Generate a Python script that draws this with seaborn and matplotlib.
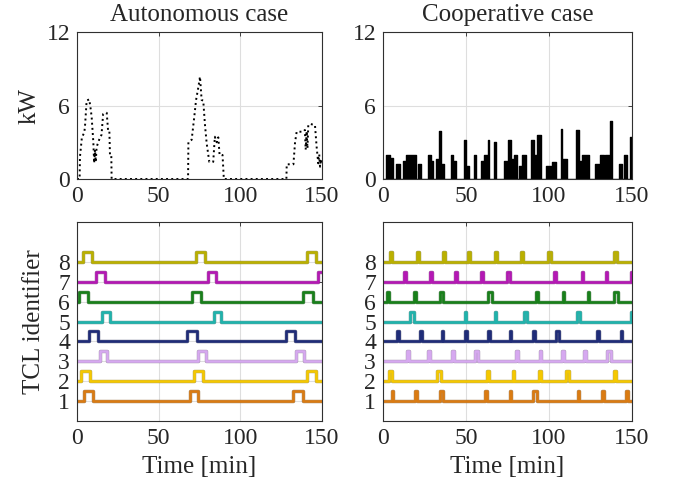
import os
import numpy as np
import pandas as pd
import matplotlib
matplotlib.use('Agg')
import matplotlib.pyplot as plt
import matplotlib.patheffects as pe
import seaborn as sns

os.environ['MPLCONFIGDIR'] = '/tmp'

# aggregate power of the autonomous case (dotted curve)
auto_t = [0, 1.6, 1.8, 3, 4.5, 5, 5.9, 7.5, 8.5, 9, 10, 10.5, 11, 11.5, 12, 13, 14.1,
          15, 16, 17.5, 18.2, 19, 19.8, 20.2, 21, 21.2,
          68, 68.2, 70.2, 71.7, 72.9, 74.3, 75.3, 76.3, 77.3, 78.3, 79.4, 81, 83.4,
          84.4, 85.5, 86.5, 87.3, 89.1, 89.9,
          128.2, 128.4, 132.5, 133.5, 134.5, 138.5, 139.5, 140, 140.6, 141.1, 141.6,
          142.6, 145.7, 146.7, 147.7, 148.3, 148.8, 149.3, 150]
auto_kw = [0, 0, 1.8, 3.4, 3.8, 4.5, 6.4, 6.5, 5.6, 5.0, 3.0, 1.3, 2.4, 1.4, 2.6, 3.0, 3.4,
           3.6, 5.3, 5.4, 5.4, 4.0, 4.0, 1.9, 1.9, 0,
           0, 3.0, 3.2, 4.95, 6.45, 7.5, 8.35, 6.45, 6.4, 4.5, 2.9, 1.4, 1.4,
           3.45, 3.0, 3.4, 1.96, 1.96, 0,
           0, 1.2, 1.2, 3.0, 3.86, 3.86, 4.0, 2.4, 3.9, 2.5, 4.4,
           4.5, 4.4, 2.64, 1.28, 2.0, 1.0, 1.6, 1.2]

# aggregate power of the cooperative case (black spikes)
coop_start = [2, 4, 8, 12, 14, 18, 21, 27, 29, 32, 34, 35, 41, 42, 49, 50, 55, 59, 61, 63,
              67, 73, 75, 77, 79, 82, 84, 89, 91, 93, 98, 102, 107, 108, 116, 118, 120,
              128, 131, 134, 137, 142, 145, 149]
coop_end = [4, 6, 10, 14, 18, 20, 23, 29, 30, 34, 35, 37, 42, 44, 50, 52, 56, 61, 63, 64,
            68, 75, 77, 79, 81, 84, 86, 91, 93, 95, 101, 104, 108, 111, 118, 120, 124,
            130, 133, 136, 138, 144, 147, 150]
coop_kw = [2.0, 1.7, 1.2, 1.5, 2.0, 1.95, 1.2, 2.0, 1.5, 1.6, 3.95, 1.2, 2.0, 1.5, 3.2, 1.1,
           2.0, 1.5, 2.0, 3.2, 3.05, 1.5, 3.2, 1.6, 2.0, 1.1, 2.0, 3.2, 2.0, 3.6, 1.1, 1.4,
           4.05, 1.6, 4.0, 1.5, 2.0, 1.2, 2.0, 2.0, 4.7, 1.2, 2.0, 3.4]

tcl_ids = [1, 2, 3, 4, 5, 6, 7, 8]
tcl_colors = ['#DA7B12', '#F5C800', '#D6A8F0', '#1F2C78',
              '#1FB3AC', '#18801A', '#B418B4', '#BAB000']

# autonomous case: ON intervals of each TCL [min]
auto_on = [[4.4, 68.9, 132.5],
           [2.5, 71.9, 140.9],
           [13.8, 73.8, 134.0],
           [7.6, 67.6, 127.9],
           [15.6, 83.6],
           [1.1, 70.5, 138.5],
           [11.5, 79.9, 147.8],
           [3.4, 72.7, 140.9]]
auto_off = [[9.9, 74.2, 138.1],
            [7.9, 77.1, 146.4],
            [18.5, 78.9, 139.1],
            [13.0, 73.2, 133.4],
            [20.1, 88.1],
            [6.8, 76.2, 144.2],
            [17.1, 85.4, 151],
            [8.9, 78.3, 146.4]]

# cooperative case: ON instants and durations of each TCL [min]
coop_on = [[5.3, 19.4, 34.4, 61.6, 76.4, 90.5, 117.2, 132.2, 146.3],
           [3.4, 32.7, 62.6, 78.2, 94.1, 110.1, 139.3],
           [14.5, 27.4, 41.7, 55.5, 80.2, 94.3, 107.9, 121.2, 135.2],
           [8.5, 22.4, 35.4, 49.5, 63.4, 76.4, 90.5, 104.3, 129.2, 143.1],
           [16.4, 49.3, 67.3, 85.0, 116.8, 149.4],
           [2.7, 18.6, 34.3, 63.4, 92.3, 108.3, 123.2, 139.3],
           [12.7, 28.4, 43.5, 59.3, 74.4, 103.1, 119.6, 134.2, 149.4],
           [4.5, 20.6, 36.2, 51.3, 67.4, 83.2, 99.5, 139.3]]
coop_len = [[1, 1, 2, 1, 1, 2, 1, 1, 1],
            [2, 2, 1, 1, 1, 2, 1],
            [1, 1, 1, 2, 1, 1, 1, 1, 2],
            [1, 1, 1, 1, 1, 1, 1, 2, 1, 1],
            [2, 1, 1, 2, 2, 2],
            [1, 1, 2, 2, 1, 1, 1, 2],
            [1, 1, 1, 1, 2, 1, 1, 1, 2],
            [1, 1, 1, 1, 1, 1, 2, 1.5]]

t_end = 150


def schedule(level, starts, ends):
    t, y = [0], [level]
    for s, e in zip(starts, ends):
        t.append(s)
        y.append(level + 0.5)
        if e < t_end:
            t.append(e)
            y.append(level)
    t.append(t_end)
    y.append(y[-1])
    return pd.DataFrame({'t': t, 'y': y})


def darker(c, f=0.55):
    r, g, b = matplotlib.colors.to_rgb(c)
    return (r * f, g * f, b * f)


sns.set_theme(style='white')
plt.rcParams['font.family'] = ['Liberation Serif', 'DejaVu Serif']

W, H = 673, 491
fig = plt.figure(figsize=(W / 100, H / 100), dpi=100)
ax_tl = fig.add_axes([77 / W, 1 - 179 / H, 245 / W, 147 / H])
ax_tr = fig.add_axes([383 / W, 1 - 179 / H, 249 / W, 147 / H])
ax_bl = fig.add_axes([77 / W, 1 - 421 / H, 245 / W, 199 / H])
ax_br = fig.add_axes([383 / W, 1 - 421 / H, 249 / W, 199 / H])

# top left: autonomous aggregate power
auto_df = pd.DataFrame({'t': auto_t, 'kw': auto_kw})
sns.lineplot(data=auto_df, x='t', y='kw', ax=ax_tl, color='black', lw=1.4,
             linestyle=':', sort=False, estimator=None)

# top right: cooperative aggregate power
ct, ck = [0], [0]
for s, e, k in zip(coop_start, coop_end, coop_kw):
    ct.append(s)
    ck.append(k)
    ct.append(e)
    ck.append(0)
coop_df = pd.DataFrame({'t': ct, 'kw': ck}).drop_duplicates('t', keep='last')
ax_tr.fill_between(coop_df['t'], coop_df['kw'], step='post', color='black', lw=0)
sns.lineplot(data=coop_df, x='t', y='kw', ax=ax_tr, color='black', lw=1.0,
             drawstyle='steps-post', sort=False, estimator=None)

# bottom: TCL schedules
for i, tid in enumerate(tcl_ids):
    col = tcl_colors[i]
    d1 = schedule(tid, auto_on[i], auto_off[i])
    ends = [s + l for s, l in zip(coop_on[i], coop_len[i])]
    d2 = schedule(tid, coop_on[i], ends)
    for ax, d in ((ax_bl, d1), (ax_br, d2)):
        sns.lineplot(data=d, x='t', y='y', ax=ax, color=col, lw=1.8,
                     drawstyle='steps-post', sort=False, estimator=None,
                     path_effects=[pe.Stroke(linewidth=2.5, foreground=darker(col), alpha=0.6),
                                   pe.Normal()])

for ax in (ax_tl, ax_tr):
    ax.set_ylim(0, 12)
    ax.set_yticks([0, 6, 12])
for ax in (ax_bl, ax_br):
    ax.set_ylim(0, 10)
    ax.set_yticks(tcl_ids)

for ax in (ax_tl, ax_tr, ax_bl, ax_br):
    ax.set_xlim(0, 150)
    ax.set_xticks([0, 50, 100, 150])
    ax.set_xlabel('')
    ax.set_ylabel('')
    ax.grid(True, color='#dedede', lw=0.8)
    ax.set_axisbelow(True)
    ax.tick_params(labelsize=17, direction='in', length=3, width=0.6,
                   color='#262626', pad=5, top=True, right=True)
    for sp in ax.spines.values():
        sp.set_color('#303030')
        sp.set_linewidth(0.8)

ax_tl.set_title('Autonomous case', fontsize=18, pad=8)
ax_tr.set_title('Cooperative case', fontsize=18, pad=8)
ax_tl.set_ylabel('kW', fontsize=18)
ax_tl.yaxis.set_label_coords(-0.15, 0.5)
ax_bl.set_ylabel('TCL identifier', fontsize=18)
ax_bl.yaxis.set_label_coords(-0.13, 0.5)
ax_bl.set_xlabel('Time [min]', fontsize=18, labelpad=5)
ax_br.set_xlabel('Time [min]', fontsize=18, labelpad=5)

fig.savefig('out.png', dpi=100)
plt.close()
